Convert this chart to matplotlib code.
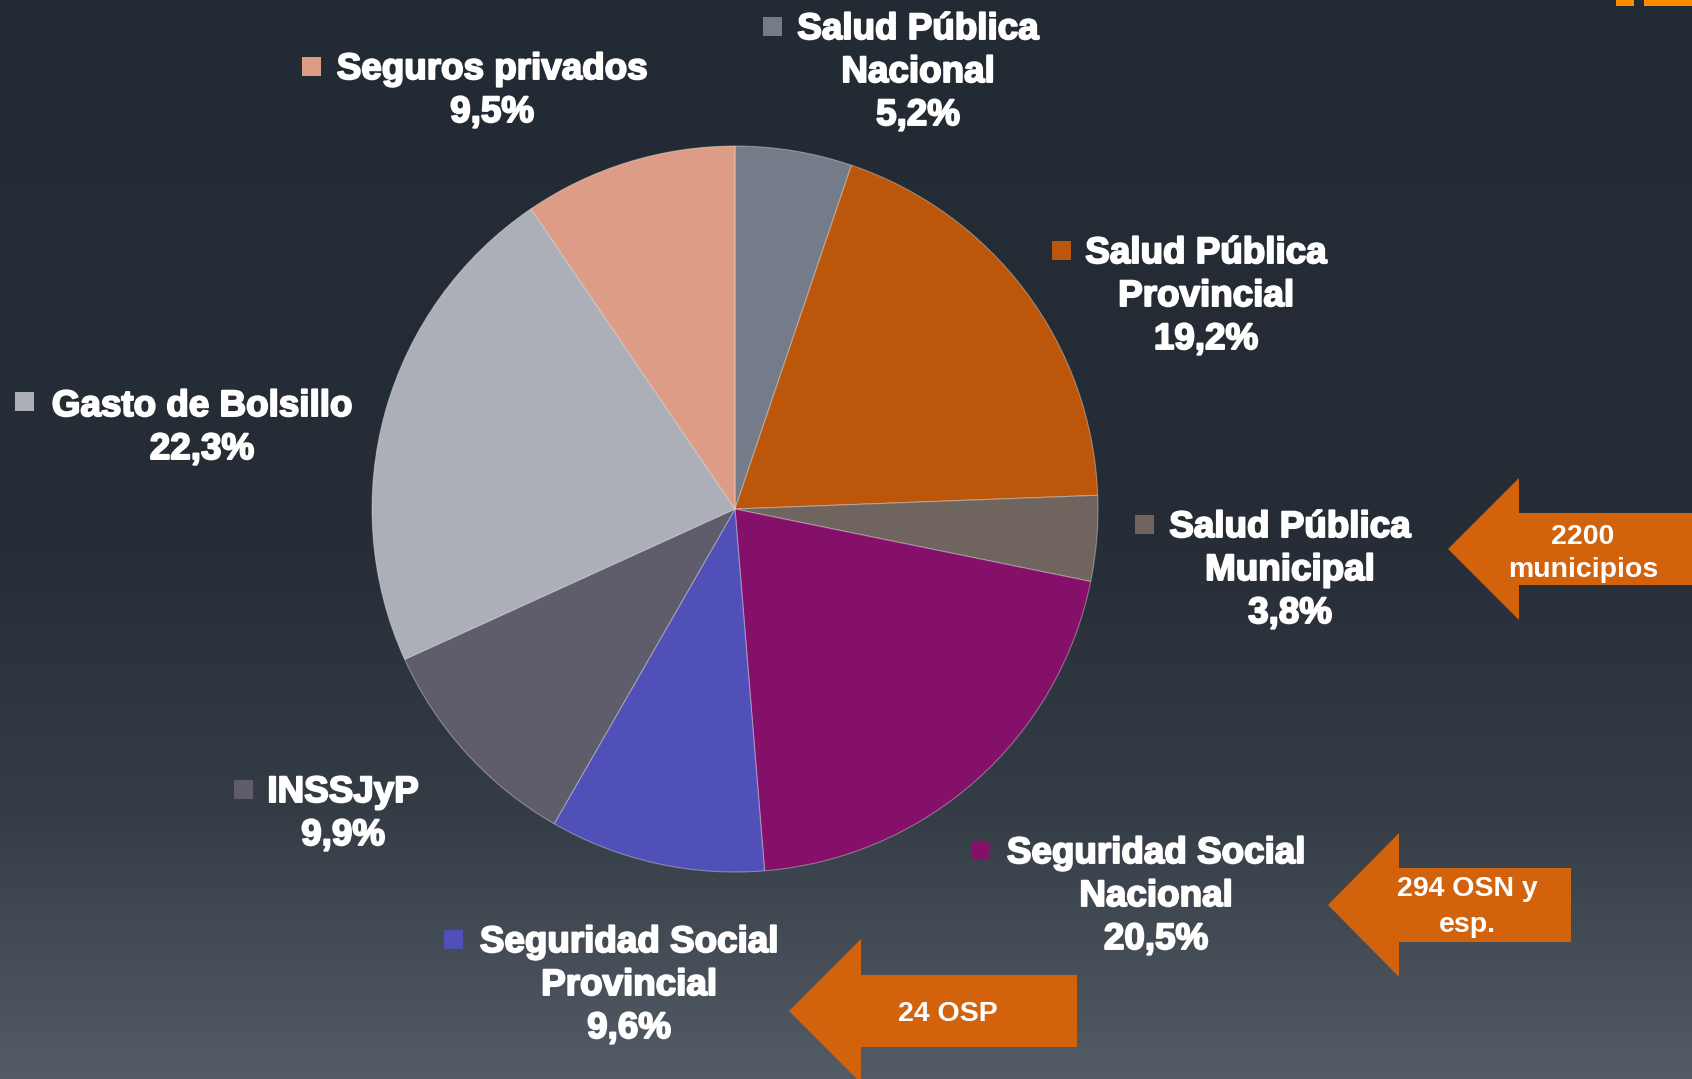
import matplotlib
matplotlib.use('Agg')
import matplotlib.pyplot as plt
import numpy as np
from matplotlib.patches import Polygon, Rectangle
from matplotlib.colors import LinearSegmentedColormap
import matplotlib.patheffects as pe

# ---- data ----
categories = ["Salud Pública\nNacional", "Salud Pública\nProvincial", "Salud Pública\nMunicipal",
              "Seguridad Social\nNacional", "Seguridad Social\nProvincial", "INSSJyP",
              "Gasto de Bolsillo", "Seguros privados"]
shares = [5.2, 19.2, 3.8, 20.5, 9.6, 9.9, 22.3, 9.5]
colors = ["#737c88", "#bb560b", "#6f645e", "#84106a", "#5150b8", "#5f5c6b", "#acafb8", "#dd9c86"]
callouts = ["2200\nmunicipios", "294 OSN y\nesp.", "24 OSP"]

# ---- layout (pixel positions) ----
W, H = 1692, 1079
label_xy = [(918, 26), (1206, 250), (1290, 524), (1156, 850), (629, 939), (343, 789), (202, 403), (492, 66)]
marker_xy = [(772, 26), (1061, 250), (1144, 524), (980, 850), (453, 939), (243, 789), (24, 401), (311, 66)]
line_gap = 43
# arrows: tip_x, tip_y, head_base_x, head_half, shaft_half, right_x, text_cx, baselines
arrows = [
    (1448, 549, 1519, 71, 36, 1692, 1583, [544, 577]),
    (1328, 905, 1399, 72, 37, 1571, 1467, [896, 932]),
    (789, 1011, 861, 72, 36, 1077, 948, [1021]),
]

fig = plt.figure(figsize=(W / 100, H / 100), dpi=100)
ax = fig.add_axes([0, 0, 1, 1])

def Y(y):
    return H - y

# background gradient
cmap = LinearSegmentedColormap.from_list("bg", [(0, "#222a33"), (0.5, "#262d36"), (0.75, "#343c45"), (1.0, "#535c66")])
grad = np.linspace(0, 1, 512).reshape(-1, 1)
ax.imshow(grad, extent=[0, W, 0, H], aspect='auto', cmap=cmap, origin='upper', zorder=0)

# pie
ax.pie(shares, colors=colors, startangle=90, counterclock=False,
       center=(735, Y(509)), radius=363, frame=True,
       wedgeprops=dict(edgecolor=(1, 1, 1, 0.35), linewidth=0.8))

# labels
fx = [pe.withStroke(linewidth=1.4, foreground='white')]
for cat, val, (cx, cy), (mx, my), col in zip(categories, shares, label_xy, marker_xy, colors):
    lines = cat.split("\n") + [f"{val:.1f}%".replace('.', ',')]
    for i, ln in enumerate(lines):
        ax.text(cx, Y(cy + i * line_gap + 13), ln, ha='center', va='baseline',
                fontsize=26.5, fontweight='bold', family='Liberation Sans', color='white',
                path_effects=fx, zorder=5)
    ax.add_patch(Rectangle((mx - 9.5, Y(my + 9.5)), 19, 19, facecolor=col, edgecolor='none', zorder=5))

# arrows
for txt, (tx, ty, hb, hh, sh, rx, tcx, bls) in zip(callouts, arrows):
    pts = [(tx, ty), (hb, ty - hh), (hb, ty - sh), (rx, ty - sh), (rx, ty + sh), (hb, ty + sh), (hb, ty + hh)]
    ax.add_patch(Polygon([(x, Y(y)) for x, y in pts], closed=True, facecolor="#d2620c", edgecolor='none', zorder=4))
    for ln, bl in zip(txt.split("\n"), bls):
        ax.text(tcx, Y(bl), ln, ha='center', va='baseline', fontsize=20.5, fontweight='bold',
                family='Liberation Sans', color='white', zorder=6)

# top-right accent bars
ax.add_patch(Rectangle((1616, Y(6)), 18, 6, facecolor="#ff8c00", edgecolor='none', zorder=6))
ax.add_patch(Rectangle((1644, Y(6)), 48, 6, facecolor="#ff8c00", edgecolor='none', zorder=6))

ax.set_xlim(0, W)
ax.set_ylim(0, H)
ax.set_aspect('auto')
ax.axis('off')
fig.savefig("out.png", dpi=100)
